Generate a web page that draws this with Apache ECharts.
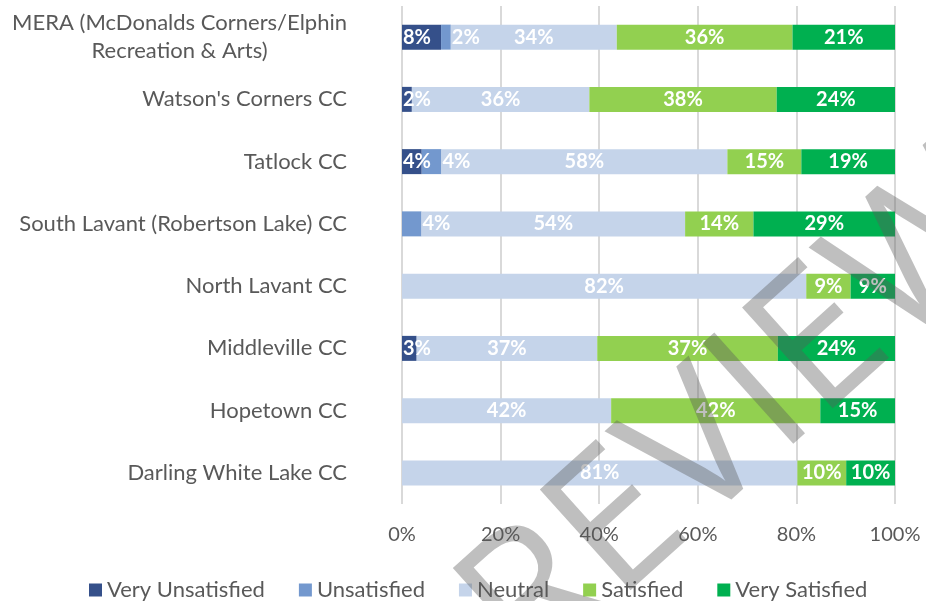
<!DOCTYPE html>
<html lang="en">
<head>
    <meta charset="UTF-8">
    <title>Satisfaction by community centre</title>
    <script type="text/javascript" src="https://cdn.jsdelivr.net/npm/echarts@6/dist/echarts.min.js"></script>
    <style>
        html, body { margin: 0; padding: 0; background: #fff; }
        #charts { width: 926px; height: 601px; }
    </style>
</head>
<body>
<div id="charts"></div>
<script>
    // categories, top to bottom
    var centres = [
        "MERA (McDonalds Corners/Elphin\nRecreation & Arts)",
        "Watson's Corners CC",
        "Tatlock CC",
        "South Lavant (Robertson Lake) CC",
        "North Lavant CC",
        "Middleville CC",
        "Hopetown CC",
        "Darling White Lake CC"
    ]
    var levels = ["Very Unsatisfied", "Unsatisfied", "Neutral", "Satisfied", "Very Satisfied"]
    var colors = ["#35508A", "#7398CE", "#C5D4EA", "#92D050", "#00B050"]

    // percentages as printed on the bars
    var veryUnsatisfied = [8, 2, 4, 0, 0, 3, 0, 0]
    var unsatisfied     = [2, 0, 4, 4, 0, 0, 0, 0]
    var neutral         = [34, 36, 58, 54, 82, 37, 42, 81]
    var satisfied       = [36, 38, 15, 14, 9, 37, 42, 10]
    var verySatisfied   = [21, 24, 19, 29, 9, 24, 15, 10]
    var xTicks = [0, 20, 40, 60, 80, 100]

    var raw = [veryUnsatisfied, unsatisfied, neutral, satisfied, verySatisfied]
    var totals = centres.map(function (c, i) {
        return raw.reduce(function (s, arr) { return s + arr[i] }, 0)
    })

    // the two thin segments get their labels pushed to the side, like in the original
    var labelPos = ['insideLeft', 'right', 'inside', 'inside', 'inside']

    var series = levels.map(function (name, k) {
        return {
            name: name,
            type: 'bar',
            stack: 'all',
            barWidth: 25,
            itemStyle: {color: colors[k]},
            label: {
                show: true,
                position: labelPos[k],
                distance: k < 2 ? 1 : 5,
                color: '#fff',
                fontFamily: 'Lato',
                fontWeight: 'bold',
                fontSize: 20,
                formatter: function (p) {
                    var v = raw[k][p.dataIndex]
                    return v ? v + '%' : ''
                }
            },
            data: raw[k].map(function (v, i) { return v / totals[i] * 100 })
        }
    })

    var chart = echarts.init(document.getElementById("charts"), null, {renderer: 'canvas'})
    chart.setOption({
        animation: false,
        color: colors,
        grid: {left: 402, right: 31, top: 6, bottom: 97, containLabel: false},
        xAxis: {
            type: 'value',
            min: 0, max: 100, interval: 20,
            axisLine: {show: false},
            axisTick: {show: false},
            axisLabel: {
                color: '#595959', fontFamily: 'Lato', fontSize: 20, margin: 21,
                formatter: function (v) { return xTicks.indexOf(v) >= 0 ? v + '%' : '' }
            },
            splitLine: {lineStyle: {color: '#D9D9D9', width: 2}}
        },
        yAxis: {
            type: 'category',
            inverse: true,
            data: centres,
            axisLine: {show: false},
            axisTick: {show: false},
            axisLabel: {
                color: '#595959', fontFamily: 'Lato', fontSize: 22, margin: 55,
                lineHeight: 28,
                formatter: function (v) {
                    return v.split('\n').map(function (l) { return '{c|' + l + '}' }).join('\n')
                },
                rich: {c: {align: 'center', color: '#595959', fontFamily: 'Lato', fontSize: 22, lineHeight: 28}}
            }
        },
        legend: {
            data: levels,
            top: 574,
            left: 84,
            itemWidth: 13, itemHeight: 13, itemGap: 34,
            icon: 'rect',
            textStyle: {color: '#595959', fontFamily: 'Lato', fontSize: 22}
        },
        graphic: [{
            type: 'text',
            x: 700, y: 455,
            rotation: 42 * Math.PI / 180,
            z: 100,
            silent: true,
            style: {
                text: 'PREVIEW',
                font: '190px "Open Sans"',
                fill: 'rgba(90,90,90,0.39)',
                align: 'center',
                verticalAlign: 'middle'
            }
        }],
        series: series
    })
</script>
</body>
</html>
